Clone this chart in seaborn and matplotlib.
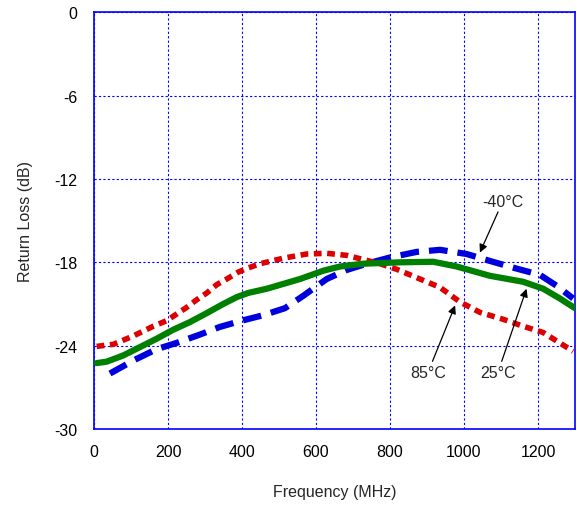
import matplotlib
matplotlib.use("Agg")
import matplotlib.pyplot as plt
import seaborn as sns
import pandas as pd

freq_25 = [7, 34, 79, 124, 169, 214, 259, 305, 349, 386, 417, 467, 557, 620, 665, 728, 827,
           917, 980, 1070, 1160, 1214, 1259, 1300]
rl_25 = [-25.25, -25.15, -24.7, -24.1, -23.5, -22.85, -22.3, -21.65, -21.0, -20.5, -20.2, -19.9,
         -19.2, -18.6, -18.3, -18.1, -18.0, -17.96, -18.3, -18.97, -19.4, -19.9, -20.6, -21.3]

freq_85 = [7, 52, 106, 160, 196, 250, 277, 305, 332, 359, 390, 417, 449, 512, 575, 629, 683,
           728, 773, 818, 872, 935, 989, 1043, 1106, 1160, 1214, 1259, 1295]
rl_85 = [-24.05, -23.9, -23.3, -22.6, -22.2, -21.25, -20.7, -20.2, -19.6, -19.2, -18.7, -18.4,
         -18.1, -17.7, -17.4, -17.35, -17.5, -17.8, -18.1, -18.5, -19.1, -19.8, -20.85, -21.6,
         -22.1, -22.6, -23.05, -23.8, -24.4]

freq_m40 = [43, 111, 169, 223, 286, 340, 399, 458, 516, 566, 629, 683, 737, 800, 872, 935,
            1007, 1070, 1142, 1205, 1251, 1295]
rl_m40 = [-26.0, -25.0, -24.25, -23.8, -23.2, -22.65, -22.2, -21.8, -21.3, -20.4, -19.2, -18.55,
          -18.1, -17.65, -17.25, -17.1, -17.4, -17.9, -18.45, -18.9, -19.7, -20.6]

x_ticks = [0, 200, 400, 600, 800, 1000, 1200]
y_ticks = [0, -6, -12, -18, -24, -30]

sns.set_style("white")
plt.rcParams['font.family'] = ['Liberation Sans', 'DejaVu Sans']

fig = plt.figure(figsize=(5.77, 5.06), dpi=100)
ax = fig.add_axes([0.163, 0.150, 0.8335, 0.824])

df25 = pd.DataFrame({"f": freq_25, "rl": rl_25})
df85 = pd.DataFrame({"f": freq_85, "rl": rl_85})
dfm40 = pd.DataFrame({"f": freq_m40, "rl": rl_m40})

ax.grid(True, color="#0000ff", linestyle=(0, (2, 2)), linewidth=0.8, zorder=0)
ax.set_axisbelow(True)

sns.lineplot(data=dfm40, x="f", y="rl", ax=ax, color="#0000dd", linewidth=4.5,
             linestyle=(0, (3, 1.6)), zorder=3, sort=False)
sns.lineplot(data=df85, x="f", y="rl", ax=ax, color="#dd0000", linewidth=4.0,
             linestyle=(0, (1.4, 1.0)), zorder=3, sort=False)
sns.lineplot(data=df25, x="f", y="rl", ax=ax, color="#008000", linewidth=4.5,
             linestyle="-", zorder=4, sort=False)

ax.set_xlim(0, 1300)
ax.set_ylim(-30, 0)
ax.set_xticks(x_ticks)
ax.set_yticks(y_ticks)
ax.set_xticklabels([str(t) for t in x_ticks])
ax.set_yticklabels([str(t) for t in y_ticks])
ax.tick_params(axis="x", labelsize=11.5, length=0, pad=11, colors="black")
ax.tick_params(axis="y", labelsize=11.5, length=0, pad=12, colors="black")
for s in ax.spines.values():
    s.set_color("#0000ff")
    s.set_linewidth(1.2)

ax.set_xlabel("Frequency (MHz)", fontsize=11.5, labelpad=18)
ax.set_ylabel("Return Loss (dB)", fontsize=11.5, labelpad=15)

arrow = dict(arrowstyle="-|>", color="black", lw=0.9, mutation_scale=12, shrinkA=0, shrinkB=0)
ax.annotate("-40°C", xy=(1043, -17.3), xytext=(1105, -13.6), fontsize=11.5,
            ha="center", va="center", arrowprops=arrow)
ax.annotate("85°C", xy=(976, -21.1), xytext=(903, -25.9), fontsize=11.5,
            ha="center", va="center", arrowprops=arrow)
ax.annotate("25°C", xy=(1169, -19.9), xytext=(1092, -25.9), fontsize=11.5,
            ha="center", va="center", arrowprops=arrow)

fig.savefig("out.png", dpi=100)
